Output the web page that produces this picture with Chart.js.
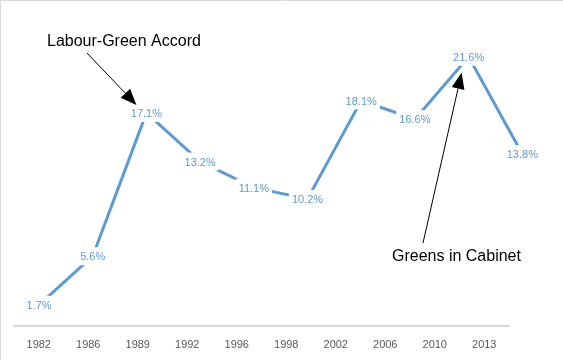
<!DOCTYPE html>
<html>
<head>
<meta charset="utf-8">
<script src="https://cdn.jsdelivr.net/npm/chart.js@4/dist/chart.umd.min.js"></script>
<style>
    html, body { margin: 0; padding: 0; background: #ffffff; }
    #wrap { width: 563px; height: 360px; position: relative; }
</style>
</head>
<body>
<div id="wrap"><canvas id="greens-vote"></canvas></div>
<script>
// Greens share of the vote by election year
const years = ['1982', '1986', '1989', '1992', '1996', '1998', '2002', '2006', '2010', '2013'];
const voteShare = [1.7, 5.6, 17.1, 13.2, 11.1, 10.2, 18.1, 16.6, 21.6, 13.8];

// Annotations: text and the election index each arrow points at
const noteTexts = ['Labour-Green Accord', 'Greens in Cabinet'];
const noteTargets = [2, 8];

const blue = '#5B9BD5';

// Labels sit on the point with a white box, so the line breaks around them
const pointLabels = {
    id: 'pointLabels',
    afterDatasetsDraw(chart) {
        const ctx = chart.ctx;
        const meta = chart.getDatasetMeta(0);
        ctx.save();
        ctx.font = '11px "Liberation Sans", Arial, sans-serif';
        ctx.textAlign = 'center';
        ctx.textBaseline = 'middle';
        meta.data.forEach((pt, i) => {
            const txt = voteShare[i].toFixed(1) + '%';
            const w = ctx.measureText(txt).width + 6;
            ctx.fillStyle = '#ffffff';
            ctx.fillRect(pt.x - w / 2, pt.y - 9, w, 18);
            ctx.fillStyle = blue;
            ctx.fillText(txt, pt.x, pt.y + 1);
        });
        ctx.restore();
    }
};

function drawArrow(ctx, x0, y0, x1, y1) {
    const ang = Math.atan2(y1 - y0, x1 - x0);
    const headLen = 16, headW = 6.5;
    const bx = x1 - headLen * Math.cos(ang), by = y1 - headLen * Math.sin(ang);
    ctx.strokeStyle = '#000000';
    ctx.lineWidth = 1;
    ctx.beginPath();
    ctx.moveTo(x0, y0);
    ctx.lineTo(bx, by);
    ctx.stroke();
    ctx.fillStyle = '#000000';
    ctx.beginPath();
    ctx.moveTo(x1, y1);
    ctx.lineTo(bx + headW * Math.sin(ang), by - headW * Math.cos(ang));
    ctx.lineTo(bx - headW * Math.sin(ang), by + headW * Math.cos(ang));
    ctx.closePath();
    ctx.fill();
}

const annotations = {
    id: 'annotations',
    afterDraw(chart) {
        const ctx = chart.ctx;
        const xs = chart.scales.xd, ys = chart.scales.y;
        ctx.save();
        ctx.font = '16px "Liberation Sans", Arial, sans-serif';
        ctx.fillStyle = '#000000';
        ctx.textAlign = 'left';
        ctx.textBaseline = 'middle';
        ctx.fillText(noteTexts[0], 47, 42);
        ctx.fillText(noteTexts[1], 392, 257);

        const a = noteTargets[0], b = noteTargets[1];
        drawArrow(ctx, 87, 53,
            xs.getPixelForValue(a) - 10, ys.getPixelForValue(voteShare[a]) - 8);
        drawArrow(ctx, 423, 243,
            xs.getPixelForValue(b) - 7, ys.getPixelForValue(voteShare[b]) + 16);
        ctx.restore();
    }
};

// white background, thin grey edge on the top and left only
const frame = {
    id: 'frame',
    beforeDraw(chart) {
        const ctx = chart.ctx;
        ctx.save();
        ctx.fillStyle = '#ffffff';
        ctx.fillRect(0, 0, chart.width, chart.height);
        ctx.strokeStyle = '#d9d9d9';
        ctx.lineWidth = 1;
        ctx.beginPath();
        ctx.moveTo(0.5, chart.height);
        ctx.lineTo(0.5, 0.5);
        ctx.lineTo(chart.width, 0.5);
        ctx.stroke();
        ctx.restore();
    }
};

new Chart(document.getElementById('greens-vote'), {
    type: 'line',
    data: {
        labels: years,
        datasets: [{
            data: voteShare.map((v, i) => ({ x: i, y: v })),
            xAxisID: 'xd',
            borderColor: blue,
            borderWidth: 3,
            pointRadius: 0,
            tension: 0,
            clip: false
        }]
    },
    options: {
        responsive: true,
        maintainAspectRatio: false,
        animation: false,
        layout: { padding: { left: 14, right: 54, top: 14.5, bottom: 0 } },
        plugins: {
            legend: { display: false },
            tooltip: { enabled: false }
        },
        scales: {
            x: {
                type: 'category',
                position: 'bottom',
                offset: true,
                grid: { display: false, drawTicks: false },
                border: { display: true, color: '#d9d9d9', width: 2 },
                ticks: {
                    color: '#595959',
                    font: { family: '"Liberation Sans", Arial, sans-serif', size: 11 },
                    padding: 12,
                    maxRotation: 0,
                    autoSkip: false
                },
                afterFit(scale) { scale.height = 34; }
            },
            xd: {
                type: 'linear',
                display: false,
                min: -0.466,
                max: 8.752
            },
            y: {
                display: false,
                min: 0,
                max: 25
            }
        }
    },
    plugins: [frame, pointLabels, annotations]
});
</script>
</body>
</html>
